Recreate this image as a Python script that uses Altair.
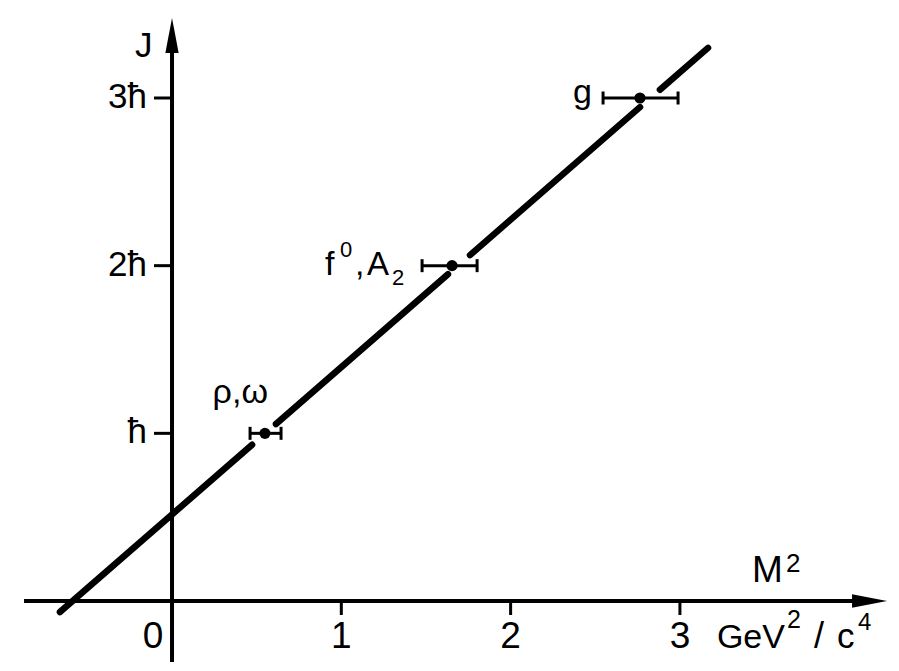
import altair as alt
import pandas as pd

# Regge trajectory of the meson resonances: J = a0 + a1 * M^2
a0 = 0.516
a1 = 0.879

# resonances (M^2 in GeV^2/c^4, spin J in units of hbar)
names = ["ρ,ω", "f⁰,A₂", "g"]
m2 = [0.549, 1.654, 2.764]
m2_lo = [0.461, 1.477, 2.546]
m2_hi = [0.644, 1.802, 2.989]
spin = [1, 2, 3]

# the trajectory is drawn in pieces, broken where it passes the markers
seg_start = [-0.662, 0.614, 1.760, 2.882]
seg_end = [0.473, 1.630, 2.764, 3.166]

# axes
x_ticks = [1, 2, 3]
x_labels = ["1", "2", "3"]
y_ticks = [1, 2, 3]
y_labels = ["ħ", "2ħ", "3ħ"]
x_axis_span = [-0.874, 4.12]
y_axis_span = [-0.364, 3.373]

FONT = "Liberation Sans"
X = alt.Scale(domain=[-1.016, 4.294], nice=False, zero=False)
Y = alt.Scale(domain=[-0.4175, 3.5845], nice=False, zero=False)


def xq(field="x"):
    return alt.X(f"{field}:Q", scale=X, axis=None)


def yq(field="y"):
    return alt.Y(f"{field}:Q", scale=Y, axis=None)


def piece(text, x, y, dx, dy, size, align="left"):
    df = pd.DataFrame({"x": [x], "y": [y], "t": [text]})
    return alt.Chart(df).mark_text(
        font=FONT, fontSize=size, align=align, baseline="alphabetic",
        dx=dx, dy=dy, color="black"
    ).encode(x=xq(), y=yq(), text="t:N")


# axis lines
axes_df = pd.DataFrame({
    "x": [x_axis_span[0], 0.0],
    "x2": [x_axis_span[1], 0.0],
    "y": [0.0, y_axis_span[0]],
    "y2": [0.0, y_axis_span[1]],
})
axis_lines = alt.Chart(axes_df).mark_rule(color="black", strokeWidth=4).encode(
    x=xq(), x2="x2:Q", y=yq(), y2="y2:Q"
)

# arrow heads
x_arrow = alt.Chart(pd.DataFrame({"x": [x_axis_span[1]], "y": [0.0]})).mark_point(
    shape="M1,0L-1,-0.38L-1,0.38Z", size=1225, filled=True, color="black",
    opacity=1, strokeWidth=0
).encode(x=xq(), y=yq())
y_arrow = alt.Chart(pd.DataFrame({"x": [0.0], "y": [y_axis_span[1]]})).mark_point(
    shape="M0,-1L0.38,1L-0.38,1Z", size=1225, filled=True, color="black",
    opacity=1, strokeWidth=0
).encode(x=xq(), y=yq())

# tick marks
xt = alt.Chart(pd.DataFrame({"x": x_ticks, "y": [0.0] * len(x_ticks)})).mark_tick(
    orient="vertical", size=14, thickness=3, yOffset=7, color="black", opacity=1
).encode(x=xq(), y=yq())
yt = alt.Chart(pd.DataFrame({"x": [0.0] * len(y_ticks), "y": y_ticks})).mark_tick(
    orient="horizontal", size=18, thickness=3, xOffset=-9, color="black", opacity=1
).encode(x=xq(), y=yq())

# tick labels
xl = alt.Chart(pd.DataFrame({"x": x_ticks, "y": [0.0] * len(x_ticks), "t": x_labels})).mark_text(
    font=FONT, fontSize=37, align="center", baseline="alphabetic", dy=47, color="black"
).encode(x=xq(), y=yq(), text="t:N")
yl = alt.Chart(pd.DataFrame({"x": [0.0] * len(y_ticks), "y": y_ticks, "t": y_labels})).mark_text(
    font=FONT, fontSize=35, align="right", baseline="alphabetic", dx=-25, dy=10, color="black"
).encode(x=xq(), y=yq(), text="t:N")
zero_label = piece("0", 0.0, 0.0, -19, 47, 37, align="center")

# axis titles
titles = [
    piece("J", 0.0, y_axis_span[1], -37, 22, 35),
    piece("M", 3.0, 0.0, 72, -19, 37),
    piece("2", 3.0, 0.0, 106, -29, 26),
    piece("GeV", 3.0, 0.0, 37, 47, 34),
    piece("2", 3.0, 0.0, 107, 27, 25),
    piece("/", 3.0, 0.0, 139, 47, 36, align="center"),
    piece("c", 3.0, 0.0, 157, 47, 35),
    piece("4", 3.0, 0.0, 178, 29, 24),
]

# trajectory
seg_df = pd.DataFrame({
    "x": seg_start,
    "x2": seg_end,
    "y": [a0 + a1 * v for v in seg_start],
    "y2": [a0 + a1 * v for v in seg_end],
})
trajectory = alt.Chart(seg_df).mark_rule(
    color="black", strokeWidth=6.5, strokeCap="round"
).encode(x=xq(), x2="x2:Q", y=yq(), y2="y2:Q")

# resonance markers with mass-squared error bars
res_df = pd.DataFrame({"name": names, "x": m2, "lo": m2_lo, "hi": m2_hi, "y": spin})
bars = alt.Chart(res_df).mark_rule(color="black", strokeWidth=3).encode(
    x=xq("lo"), x2="hi:Q", y=yq()
)
caps_lo = alt.Chart(res_df).mark_tick(
    orient="vertical", size=13, thickness=3, color="black", opacity=1
).encode(x=xq("lo"), y=yq())
caps_hi = alt.Chart(res_df).mark_tick(
    orient="vertical", size=13, thickness=3, color="black", opacity=1
).encode(x=xq("hi"), y=yq())
dots = alt.Chart(res_df).mark_point(
    filled=True, size=125, color="black", opacity=1, shape="circle"
).encode(x=xq(), y=yq())

# resonance names
labels = [
    piece(names[0], m2[0], spin[0], 3, -30, 34, align="right"),
    piece("f", m2[1], spin[1], -127, 9, 34),
    piece("0", m2[1], spin[1], -112, -9, 22),
    piece(",", m2[1], spin[1], -97, 9, 34),
    piece("A", m2[1], spin[1], -85, 9, 33),
    piece("2", m2[1], spin[1], -60, 19, 22),
    piece(names[2], m2[2], spin[2], -67, 5, 34),
]

chart = alt.layer(
    axis_lines, x_arrow, y_arrow, xt, yt, xl, yl, zero_label, *titles,
    trajectory, bars, caps_lo, caps_hi, dots, *labels
).properties(
    width=899, height=671, padding=0, autosize="none", background="white"
).configure_view(stroke=None)

chart.save("out.html", embed_options={"renderer": "svg", "actions": False})
